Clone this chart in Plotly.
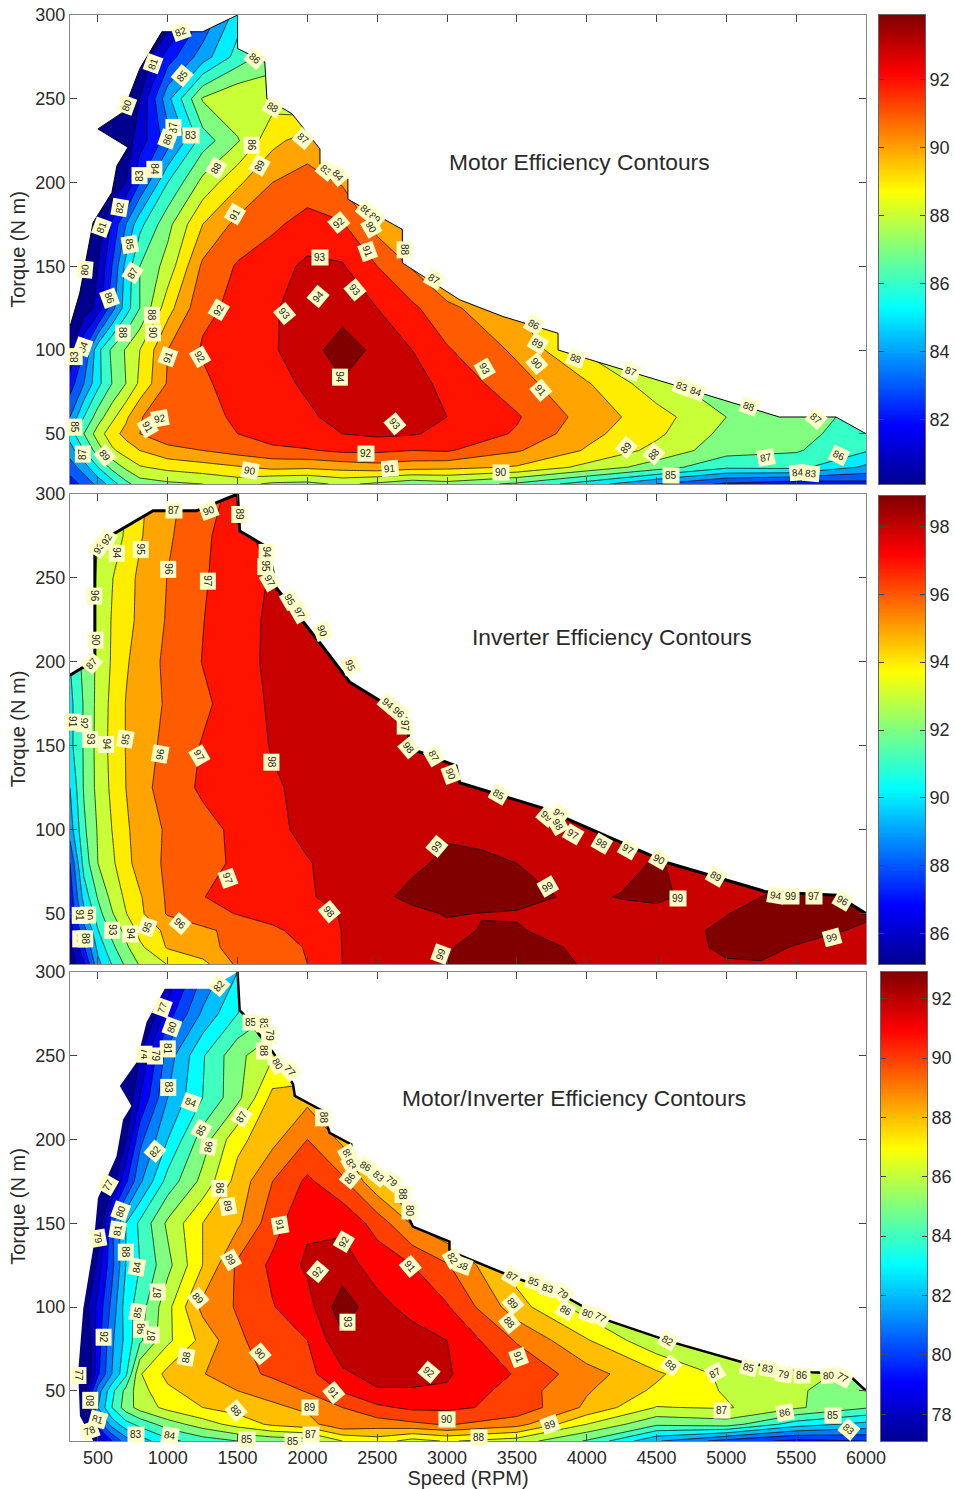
import numpy as np
import plotly.graph_objects as go

TORQUE = [20, 30, 40, 50, 60, 80, 100, 125, 150, 175, 200, 225, 250, 275, 300]
SPEED = [300, 400, 500, 600, 700, 800, 1000, 1250, 1500, 1750, 2000, 2250, 2500, 2750, 3000, 3500, 4000, 4500, 5000, 5500, 6000]
SPEED_INV = [300, 400, 500, 600, 700, 800, 1000, 1250, 1500, 1750, 2000, 2250, 2500, 2750, 3000, 3250, 3500, 4000, 4250, 4500, 4750, 5000, 5250, 5500, 5750, 6000]

MOTOR = [
 [82.5,83.3,84.3,85.5,86.7,87.5,87.8,88,88.4,87.8,87.7,88.2,87.8,87.3,87.6,86.8,85.5,84,82.8,82.3,82.6],
 [83.5,84.5,86,87.3,88.2,88.9,89.3,89.6,89.9,90.3,90.2,90.4,90.6,90.4,90.3,89.9,88.7,87.5,86.2,86.3,84.8],
 [84.5,86,87.5,88.8,89.5,90,90.7,91,91.4,91.7,91.9,92.2,92.2,92,92.1,91.1,89.9,88.7,87.4,87.1,86.1],
 [85.5,87,88.5,89.6,90.3,91,91.6,91.7,92,92.6,92.8,93,93.2,93.1,92.7,91.9,90.3,89.2,87.7,87.3,86.5],
 [84,86,87.5,88.7,89.8,90.9,91.9,91.8,92.1,92.5,92.9,93.2,93.3,93.2,93,92.1,90.6,89.4,88,87.4,86.7],
 [82.5,84,85.7,87,88,89.2,91.1,91.8,92.5,92.8,93.1,93.9,93.6,93.4,92.7,91.4,90.1,88.4,87.2,86.8,86.5],
 [81,83,85.7,87.2,88.1,89,91,92.1,92.5,92.9,93.5,94.6,93.7,93,92.1,90.8,88.8,87.5,86.8,86.5,86.3],
 [80,80.4,81.3,83.6,85.5,87,89.6,91.8,92.2,92.9,93.4,93.5,93,92.2,91.3,89.9,88,87,86.5,86.3,86],
 [79.5,80.2,81,83,85.3,87,88.4,91.2,92.1,92.6,93.2,93.1,92,90.9,89.5,88,87,86.5,86,86,86],
 [78,79,80.3,82.2,84,85.7,87.7,90,91.3,91.8,92.4,92.1,90.6,89.5,88,87,86.5,86,86,86,86],
 [76,77.5,79,80,81,83,86,88.3,89.8,91,91.4,90.9,89,88,87,86.5,86,86,86,86,86],
 [75,76,78,79.5,80.5,81.5,83.5,86.5,87.9,89.7,90.5,89,88,87,86.5,86,86,86,86,86,86],
 [74,75.5,77,78.5,80,81,84.7,88.1,88.9,88.6,88,87,86.5,86,86,86,86,86,86,86,86],
 [73,74,76,77.5,79,80,82.5,84.5,86.4,87.6,87,86.5,86,86,86,86,86,86,86,86,86],
 [72,73,75,76,77,78,80,83,85.5,87,86.5,86,86,86,86,86,86,86,86,86,86],
]

INVERTER = [
 [85.4,86.9,89.7,91.05,92.2,93.1,94.05,94.7,96.2,96.5,97,98,98.4,98.7,99,99.3,99.3,98.95,98.5,98.5,98.6,98.9,98.95,98.6,98.4,98.4],
 [85.5,87.9,90.3,91.75,92.8,93.8,95.1,95.7,96.3,96.7,97.05,98.02,98.5,98.7,98.95,99.2,99.2,98.9,98.6,98.6,98.8,99.2,99.2,98.95,98.5,98.5],
 [86.5,88.6,90.95,92.3,93.3,94.3,95.25,95.8,96.3,96.8,97.4,98.02,98.4,98.6,98.85,99.03,99.05,98.7,98.6,98.6,98.8,99.3,99.5,99.3,99.15,98.8],
 [87.2,89.7,91.6,92.9,93.95,94.8,96.1,96.6,97.05,97.4,97.7,98.05,98.4,98.8,99.05,98.98,98.95,98.7,98.7,98.7,98.8,98.95,99.5,99.6,99.6,99.2],
 [87.4,90.4,92.1,93.3,94.2,94.9,96.15,96.98,97.25,97.5,97.9,98.3,98.8,99.2,99.5,99.4,99.2,98.85,99.05,99.2,98.8,98.8,99,99.3,99.3,99],
 [88,91.4,93,93.8,94.7,95.4,96.2,96.7,97.15,97.5,97.95,98.3,98.6,98.85,99.15,99.1,99,98.8,98.7,99.1,98.7,98.7,98.7,98.7,98.7,98.7],
 [89.5,91.8,93.1,94,94.85,95.4,96.15,96.7,97.2,97.8,98.2,98.4,98.6,98.75,98.9,98.85,98.7,98.6,98.6,98.6,98.6,98.6,98.6,98.6,98.6,98.6],
 [90,92.1,93.3,94.2,95,95.6,96.5,97.15,97.5,97.9,98.2,98.4,98.6,98.7,98.7,98.7,98.7,98.7,98.7,98.7,98.7,98.7,98.7,98.7,98.7,98.7],
 [90.7,92.1,93.35,94.3,95.03,95.5,96.3,97.07,97.6,98.05,98.4,98.6,98.7,98.7,98.7,98.7,98.7,98.7,98.7,98.7,98.7,98.7,98.7,98.7,98.7,98.7],
 [90.7,92.1,93.3,94.25,95.03,95.4,96.15,96.8,97.5,98.15,98.5,98.7,98.7,98.7,98.7,98.7,98.7,98.7,98.7,98.7,98.7,98.7,98.7,98.7,98.7,98.7],
 [91,92.3,93.2,94.1,94.9,95.35,96.25,97.03,97.65,98.2,98.5,98.7,98.7,98.7,98.7,98.7,98.7,98.7,98.7,98.7,98.7,98.7,98.7,98.7,98.7,98.7],
 [91,92,93.3,94.05,94.7,95.2,96.1,96.97,97.6,98.2,98.5,98.7,98.7,98.7,98.7,98.7,98.7,98.7,98.7,98.7,98.7,98.7,98.7,98.7,98.7,98.7],
 [91,92,93.2,93.95,94.6,95.2,96.03,96.9,97.5,98.1,98.4,98.7,98.7,98.7,98.7,98.7,98.7,98.7,98.7,98.7,98.7,98.7,98.7,98.7,98.7,98.7],
 [91,92,93,93.6,94.1,94.9,95.85,96.75,97.7,98.3,98.5,98.7,98.7,98.7,98.7,98.7,98.7,98.7,98.7,98.7,98.7,98.7,98.7,98.7,98.7,98.7],
 [91,92,93,93.5,94,94.8,95.7,96.6,97.3,98.3,98.5,98.7,98.7,98.7,98.7,98.7,98.7,98.7,98.7,98.7,98.7,98.7,98.7,98.7,98.7,98.7],
]

COMBINED = [
 [74,76,78,80,81.5,82.5,83.7,84.5,85,85.3,85.5,87,87.5,86.6,87.1,86.5,84.9,82.1,80.6,79.7,80],
 [73,77,80.5,82.4,83.6,84.3,85.5,86.5,87.4,88.2,88.6,89.8,89.5,89.8,90.1,89.4,87,85.2,85.5,83.5,82.7],
 [72,77.5,82,84,85.5,86.4,87.3,88,88.4,88.8,89.2,90,90.8,91.2,91.2,90.7,88.8,86.95,87.1,86.15,85.1],
 [73,77.5,81.5,83.7,85.3,86.6,87.8,88.5,89,89.4,90.1,91.1,91.9,91.9,91.9,90.5,89.1,87.8,86.9,86.1,85.5],
 [72,76,79.8,82,83.8,86.9,88.3,88.95,89.6,90.2,90.7,91.8,92.4,92.4,92.1,90.9,89.4,88.2,86.7,86.3,85.7],
 [72,76.5,79.5,81.8,83.3,84.8,86.8,88.3,89.8,90.6,91,92.8,92.7,92.4,92,89.9,88.1,86.2,85.5,85,84.5],
 [70,77.4,79.3,81.3,83.5,84.5,86.7,89.3,90.1,90.95,91.6,93.6,92.3,91.7,91.1,88.4,86.5,85.5,85,84.8,84.5],
 [74,75.5,78.5,80.7,83,84,85.7,88,90.2,91.2,92.2,92.4,91.6,91,90.1,87.5,86,85.5,85,84.8,84.5],
 [73,74,77,80.8,83,84.2,86.2,88,88.8,90.6,91.8,91.8,90.6,88.9,88,86,85.5,85,85,84.8,84.5],
 [72,73,75,77.5,79.8,81.8,84.4,86.3,88.4,90,91.2,90.2,88.2,87,86,85.5,85,85,85,84.8,84.5],
 [71,72,73.5,75.5,78,80.7,83,85.5,87.7,88.7,90,88.8,87,86,85.5,85,85,85,85,85,85],
 [70,71,73,75,77,79,82,84,85.7,88.3,88.7,87.5,86,85.5,85,85,85,85,85,85,85],
 [69,70.5,72,74,76,78,81.5,83.9,85.7,86.9,86.5,86,85.5,85,85,85,85,85,85,85,85],
 [68,69,71,73,75,76,79.5,82.2,84,85,85.5,85,85,85,85,85,85,85,85,85,85],
 [67,68,70,72,74,75,78,81,83,84.5,85,85,85,85,85,85,85,85,85,85,85],
]

# operating envelope (speed, max torque), low-speed limit then high-speed limit
ENV_LOW_1 = [(300,114),(370,134),(465,176),(600,194),(636,210),(715,221),(500,232),(680,242),(800,268),(958,290),(1250,290)]
ENV_HIGH_1 = [(1500,300),(1500,280),(1695,272),(1710,250),(1890,241),(2090,220),(2090,211),(2290,202),(2290,190),(2680,172),(2680,152),(3090,130),(3400,120),(3795,110),(3795,100),(4590,80),(5380,60),(5785,60),(6000,50)]
ENV_LOW_2 = [(300,192),(478,201),(478,264),(609,276),(895,290),(1205,290)]
ENV_HIGH_2 = [(1500,300),(1515,278),(1718,268),(1778,244),(2111,209),(2302,188),(2517,177),(2731,165),(2720,149),(3065,138),(3090,128),(3680,113),(4590,80),(5285,63),(5790,61),(6000,50)]
ENV_LOW_3 = [(466,20),(371,35),(359,62),(395,99),(466,135),(500,165),(633,190),(680,212),(740,220),(657,232),(776,246),(848,270),(979,290),(1300,290)]
ENV_HIGH_3 = [(1500,300),(1515,277),(1540,275),(1754,252),(1897,233),(1910,226),(2111,217),(2159,204),(2314,197),(2314,188),(2612,173),(2755,148),(3017,139),(3017,134),(3090,131),(3410,120),(3830,107),(4150,92),(4610,79),(5115,67),(5610,61),(5870,60),(6000,50)]

TICKS_X = [500, 1000, 1500, 2000, 2500, 3000, 3500, 4000, 4500, 5000, 5500, 6000]
TICKS_Y = [50, 100, 150, 200, 250, 300]
CB1 = [82, 84, 86, 88, 90, 92]
CB2 = [86, 88, 90, 92, 94, 96, 98]
CB3 = [78, 80, 82, 84, 86, 88, 90, 92]

L1 = [(1098,290,'82',-20),(895,271,'81',-70),(1105,264,'85',-50),(1623,274,'86',40),(705,246,'80',-70),(1754,245,'88',30),
 (1039,233,'87',-90),(1003,226,'86',-70),(1170,228,'83',0),(1968,226,'87',40),(1599,222,'86',90),(1658,210,'89',-60),
 (800,204,'83',-90),(907,208,'84',90),(1348,209,'88',-60),(2135,207,'83',40),(2219,204,'84',50),(1480,181,'91',-60),
 (657,185,'82',-80),(526,173,'81',-70),(729,163,'85',80),(2226,176,'92',-40),(2421,183,'86',40),(2481,179,'89',40),
 (2457,173,'90',60),(2433,159,'91',70),(2696,160,'88',90),(2088,155,'93',0),(407,148,'80',-85),(752,146,'87',-60),
 (2910,142,'87',30),(586,131,'86',70),(2076,132,'94',-50),(2338,136,'93',50),(1368,124,'92',-60),(1837,122,'93',50),
 (884,121,'88',90),(681,110,'88',90),(896,110,'90',90),(395,102,'84',-70),(335,96,'83',-90),(1003,96,'91',-70),
 (1229,96,'92',60),(2231,84,'94',90),(2624,56,'93',50),(943,59,'92',-10),(860,54,'91',60),(335,54,'85',90),
 (395,38,'87',-90),(550,37,'89',50),(2421,38,'92',0),(1587,28,'90',10),(2588,29,'91',-5),(3269,89,'93',60),
 (3619,115,'86',30),(3650,104,'89',30),(3643,92,'90',50),(3674,76,'91',50),(3924,95,'88',20),(4318,87,'87',20),
 (4683,78,'83',20),(4783,75,'84',20),(5164,66,'88',20),(5641,59,'87',40),(5808,37,'86',25),(5283,36,'87',-10),
 (4485,38,'88',-50),(4282,42,'89',-50),(3388,27,'90',0),(4604,25,'85',0),(5510,27,'84',-5),(5605,26,'83',5)]

L2 = [(1043,290,'87',0),(1294,290,'90',-20),(1515,288,'89',90),(509,268,'93',-60),(562,273,'92',-60),(633,265,'94',90),
 (807,267,'95',90),(1003,255,'96',90),(1289,248,'97',90),(1706,265,'94',90),(1701,257,'95',90),(1735,248,'97',60),
 (474,239,'96',90),(1873,237,'95',60),(1949,229,'97',60),(2107,218,'90',70),(2309,198,'95',70),(485,213,'90',90),
 (454,199,'87',-50),(2576,175,'94',40),(2655,170,'96',40),(2696,162,'97',90),(2724,149,'98',50),(2903,144,'87',60),
 (3029,133,'90',70),(395,163,'92',90),(323,164,'91',90),(447,154,'93',90),(562,151,'94',90),(693,154,'95',-80),
 (943,145,'96',-80),(1225,144,'97',60),(1742,140,'98',90),(1432,71,'97',70),(2926,90,'99',-50),(2154,51,'98',50),
 (431,49,'90',90),(371,49,'91',90),(602,40,'93',90),(729,38,'94',90),(848,42,'95',-70),(1086,44,'96',40),
 (371,35,'89',90),(407,35,'88',90),(2958,26,'99',-70),(3371,121,'85',30),(3715,108,'99',40),(3805,109,'96',40),
 (3793,103,'98',60),(3905,97,'97',30),(4108,92,'98',30),(4299,88,'97',30),(4520,82,'90',30),(4926,72,'89',30),
 (5355,61,'94',10),(5462,60,'99',0),(5629,60,'97',0),(5832,58,'96',30),(3722,66,'99',-30),(4656,59,'99',0),(5755,36,'99',-15)]

L3 = [(1368,292,'82',-50),(960,279,'77',-70),(1027,267,'80',-70),(1003,254,'81',90),(836,251,'74',90),(907,250,'79',90),
 (1599,270,'85',0),(1682,269,'83',90),(1725,262,'79',90),(1687,253,'88',90),(1790,245,'80',60),(1873,241,'77',50),
 (1003,231,'83',90),(1170,222,'84',20),(1527,214,'87',-60),(1241,206,'85',-60),(1289,196,'86',-80),(2111,213,'88',90),
 (907,193,'82',-50),(2290,191,'85',60),(2314,185,'83',60),(2421,184,'86',30),(2512,178,'83',40),(2607,175,'79',40),
 (2679,167,'88',90),(2731,157,'80',90),(2302,177,'86',-50),(574,173,'77',-60),(1372,171,'86',90),(1432,160,'89',80),
 (662,157,'80',-70),(1801,149,'91',80),(2262,139,'92',-60),(645,146,'81',-80),(502,141,'79',80),(698,133,'88',90),
 (2736,124,'91',50),(781,124,'84',-80),(1456,128,'89',60),(2076,121,'92',-50),(931,109,'87',-90),(1217,105,'89',50),
 (781,97,'85',-80),(2290,91,'93',90),(805,87,'86',90),(884,83,'87',-90),(543,82,'92',90),(1129,70,'88',-80),
 (1658,72,'90',50),(2874,61,'92',40),(359,59,'77',90),(2188,49,'91',50),(447,44,'80',-90),(1487,38,'88',50),
 (2016,40,'89',0),(502,33,'81',15),(443,26,'78',-20),(776,24,'83',0),(1019,23,'84',10),(1568,21,'85',0),(1897,20,'85',0),
 (2028,24,'87',0),(2998,33,'90',0),(3114,125,'88',20),(3041,129,'82',60),(3467,118,'87',30),(3471,102,'89',50),
 (3448,91,'88',50),(3514,70,'91',70),(3619,115,'85',20),(3722,111,'83',15),(3829,108,'79',40),(3853,98,'86',30),
 (4008,96,'80',20),(4103,94,'77',30),(4580,80,'82',30),(4604,65,'88',40),(4921,61,'87',-30),(3738,30,'89',-20),
 (3228,22,'88',0),(4966,38,'87',0),(5159,64,'85',15),(5295,63,'83',10),(5414,60,'79',10),(5541,59,'86',0),
 (5736,59,'80',-5),(5832,58,'77',30),(5422,37,'86',-10),(5765,35,'85',0),(5879,27,'83',40)]

JET = [[0,'rgb(0,0,143)'],[0.125,'rgb(0,0,255)'],[0.375,'rgb(0,255,255)'],[0.625,'rgb(255,255,0)'],[0.875,'rgb(255,0,0)'],[1,'rgb(128,0,0)']]
FONT = 'Liberation Sans'
INK = '#2a2a2a'
W, H = 955, 1489

panels = [
 dict(s=SPEED, z=MOTOR, top=15, bot=484, start=81, end=94, lo=80.1, hi=94, barlo=80.1, barhi=93.9,
      low=ENV_LOW_1, high=ENV_HIGH_1, lw=1.0, cbx=879, cbtop=15, cbbot=484, cbt=CB1, labels=L1,
      title='Motor Efficiency Contours', tx=3948, ty=212, line_all=True),
 dict(s=SPEED_INV, z=INVERTER, top=494, bot=964, start=86, end=99, lo=85.1, hi=99, barlo=85.1, barhi=98.9,
      low=ENV_LOW_2, high=ENV_HIGH_2, lw=3.0, cbx=879, cbtop=496, cbbot=964, cbt=CB2, labels=L2,
      title='Inverter Efficiency Contours', tx=4184, ty=215, line_all=True),
 dict(s=SPEED, z=COMBINED, top=972, bot=1441, start=78, end=93, lo=77.1, hi=93, barlo=77.1, barhi=92.9,
      low=ENV_LOW_3, high=ENV_HIGH_3, lw=2.5, cbx=881, cbtop=972, cbbot=1441, cbt=CB3, labels=L3,
      title='Motor/Inverter Efficiency Contours', tx=3912, ty=225, line_all=False),
]

fig = go.Figure()
annotations = []
layout = {}
for i, p in enumerate(panels):
    n = '' if i == 0 else str(i + 1)
    xa, ya = 'x' + n, 'y' + n
    z = np.array(p['z'], dtype=float)
    assert z.shape == (len(TORQUE), len(p['s']))
    fig.add_trace(go.Contour(
        x=p['s'], y=TORQUE, z=z, xaxis=xa, yaxis=ya, showscale=False, hoverinfo='skip',
        colorscale=JET, zmin=p['lo'] + 0.5, zmax=p['hi'] + 0.5, autocontour=False,
        contours=dict(start=p['start'], end=p['end'], size=1, coloring='fill', showlabels=False),
        line=dict(color='black', width=0.7, smoothing=0)))
    env = p['low'] + p['high']
    ex = [e[0] for e in env]
    ey = [e[1] for e in env]
    # white out everything above the envelope
    corner_x = [6200, 6200, 100, 100]
    corner_y = [50, 320, 320, ey[0]]
    if i == 2:
        corner_x = [6200, 6200, 100, 100, ex[0]]
        corner_y = [50, 320, 320, 0, 0]
    fig.add_trace(go.Scatter(x=ex + corner_x, y=ey + corner_y, xaxis=xa, yaxis=ya, mode='lines',
                             fill='toself', fillcolor='white', line=dict(width=0), hoverinfo='skip', showlegend=False))
    outline = env if p['line_all'] else p['high']
    fig.add_trace(go.Scatter(x=[e[0] for e in outline], y=[e[1] for e in outline], xaxis=xa, yaxis=ya, mode='lines',
                             line=dict(color='black', width=p['lw']), hoverinfo='skip', showlegend=False))
    # smooth colour bar on its own pair of axes
    k = str(i + 4)
    bar_levels = np.linspace(p['barlo'], p['barhi'], 256)
    fig.add_trace(go.Heatmap(x=[0, 1], y=bar_levels, z=[[v, v] for v in bar_levels], xaxis='x' + k, yaxis='y' + k,
                             colorscale=JET, zmin=p['barlo'], zmax=p['barhi'], showscale=False, hoverinfo='skip'))
    layout['xaxis' + k] = dict(domain=[p['cbx'] / W, (p['cbx'] + 46) / W], range=[-0.5, 1.5], anchor='y' + k, showticklabels=False, automargin=False,
                               ticks='', showgrid=False, zeroline=False, showline=True, mirror=True, linecolor='#666', linewidth=1)
    layout['yaxis' + k] = dict(domain=[1 - p['cbbot'] / H, 1 - p['cbtop'] / H], range=[p['barlo'], p['barhi']], anchor='x' + k, side='right', automargin=False,
                               tickmode='array', tickvals=p['cbt'], ticks='inside', ticklen=5, tickcolor='#444',
                               showgrid=False, zeroline=False, showline=True, mirror='ticks', linecolor='#666', linewidth=1,
                               tickfont=dict(family=FONT, size=18, color=INK))
    layout['xaxis' + n] = dict(domain=[70 / W, 866 / W], range=[300, 6000], anchor=ya, tickmode='array', tickvals=TICKS_X, automargin=False,
        ticks='inside', ticklen=7, tickcolor='#444', showgrid=False, zeroline=False, mirror='ticks', showline=True,
        linecolor='#888', linewidth=1, showticklabels=(i == 2), tickfont=dict(family=FONT, size=18, color=INK),
        title=dict(text='Speed (RPM)' if i == 2 else '', font=dict(family=FONT, size=20, color=INK), standoff=3))
    layout['yaxis' + n] = dict(domain=[1 - p['bot'] / H, 1 - p['top'] / H], range=[20, 300], anchor=xa, tickmode='array', tickvals=TICKS_Y, automargin=False,
        ticks='inside', ticklen=7, tickcolor='#444', showgrid=False, zeroline=False, mirror='ticks', showline=True,
        linecolor='#888', linewidth=1, tickfont=dict(family=FONT, size=18, color=INK),
        title=dict(text='Torque (N m)', font=dict(family=FONT, size=20, color=INK), standoff=4))
    for sx, ty, txt, ang in p['labels']:
        annotations.append(dict(x=sx, y=ty, xref=xa, yref=ya, text=txt, textangle=ang, showarrow=False,
            font=dict(family=FONT, size=10, color='#222'), bgcolor='#ffffc8', borderpad=2))
    annotations.append(dict(x=p['tx'], y=p['ty'], xref=xa, yref=ya, text=p['title'], showarrow=False,
                            font=dict(family=FONT, size=22.8, color=INK)))

fig.update_layout(width=W, height=H, autosize=False, margin=dict(l=0, r=0, t=0, b=0), paper_bgcolor='white',
                  plot_bgcolor='white', showlegend=False, annotations=annotations, **layout)
fig.write_html('out.html', post_script="document.body.style.margin='0';", config=dict(displayModeBar=False))
